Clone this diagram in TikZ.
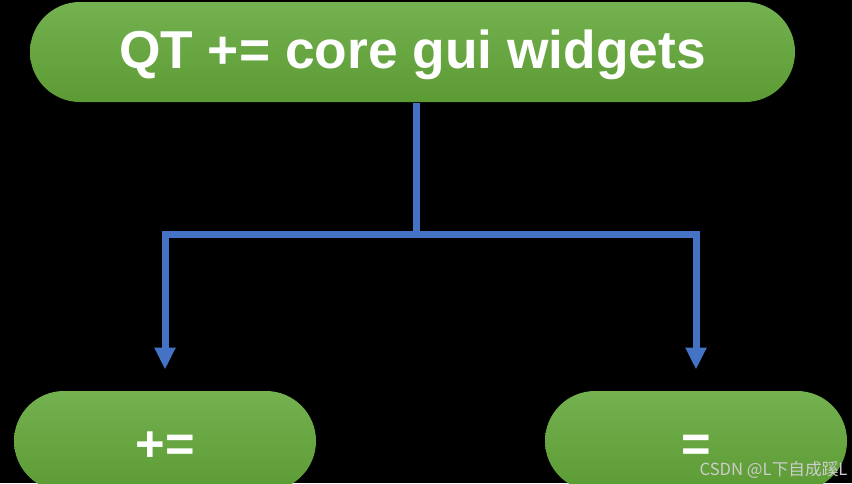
\documentclass[tikz,border=0pt]{standalone}
\usepackage{fontspec}
\setmainfont{Liberation Sans}
\newfontfamily\cjkfont{Noto Sans CJK SC}
\usetikzlibrary{arrows.meta}

\definecolor{pilltop}{RGB}{116,177,80}
\definecolor{pillbottom}{RGB}{92,155,52}
\definecolor{flowblue}{RGB}{68,114,196}
\definecolor{markgray}{RGB}{205,205,205}

\tikzset{every picture/.style={line width=0.75pt}}
\tikzset{
  pill/.style={rectangle, rounded corners=37.5pt, top color=pilltop, bottom color=pillbottom, inner sep=0pt, minimum height=75pt, text depth=0pt, text=white, font=\bfseries},
  flow/.style={draw=flowblue, line width=5.25pt},
  flowarrow/.style={flow, -{Triangle[width=15pt,length=16.5pt]}, shorten >=15.75pt},
}

\begin{document}
\begin{tikzpicture}[x=0.75pt,y=0.75pt,yscale=-1,xscale=1]
\path[use as bounding box] (0,0) rectangle (852,483);
\fill[black] (0,0) rectangle (852,483);
\clip (0,0) rectangle (852,483);

%Shape: Pills
\node[pill, minimum width=573.75pt, text height=24pt, font=\bfseries\fontsize{40}{48}\selectfont] (qt) at (412.5,52) {QT += core gui widgets};
\node[pill, minimum width=226.5pt, text height=30pt, font=\bfseries\fontsize{38}{44}\selectfont] (plus) at (165,441) {+=};
\node[pill, minimum width=226.5pt, text height=30pt, font=\bfseries\fontsize{38}{44}\selectfont] (assign) at (696,441) {=};

%Straight Lines
\coordinate (hub) at (416,234);
\draw[flow] (qt.south -| hub) -- (hub);
\draw[flowarrow] (hub) -| (plus.north);
\draw[flowarrow] (hub) -| (assign.north);

% Text Node
\node[anchor=east, inner sep=0pt, text=markgray, font=\cjkfont\fontsize{12.5}{14}\selectfont] (mark) at (848,470) {CSDN @L下自成蹊L};

\end{tikzpicture}
\end{document}
